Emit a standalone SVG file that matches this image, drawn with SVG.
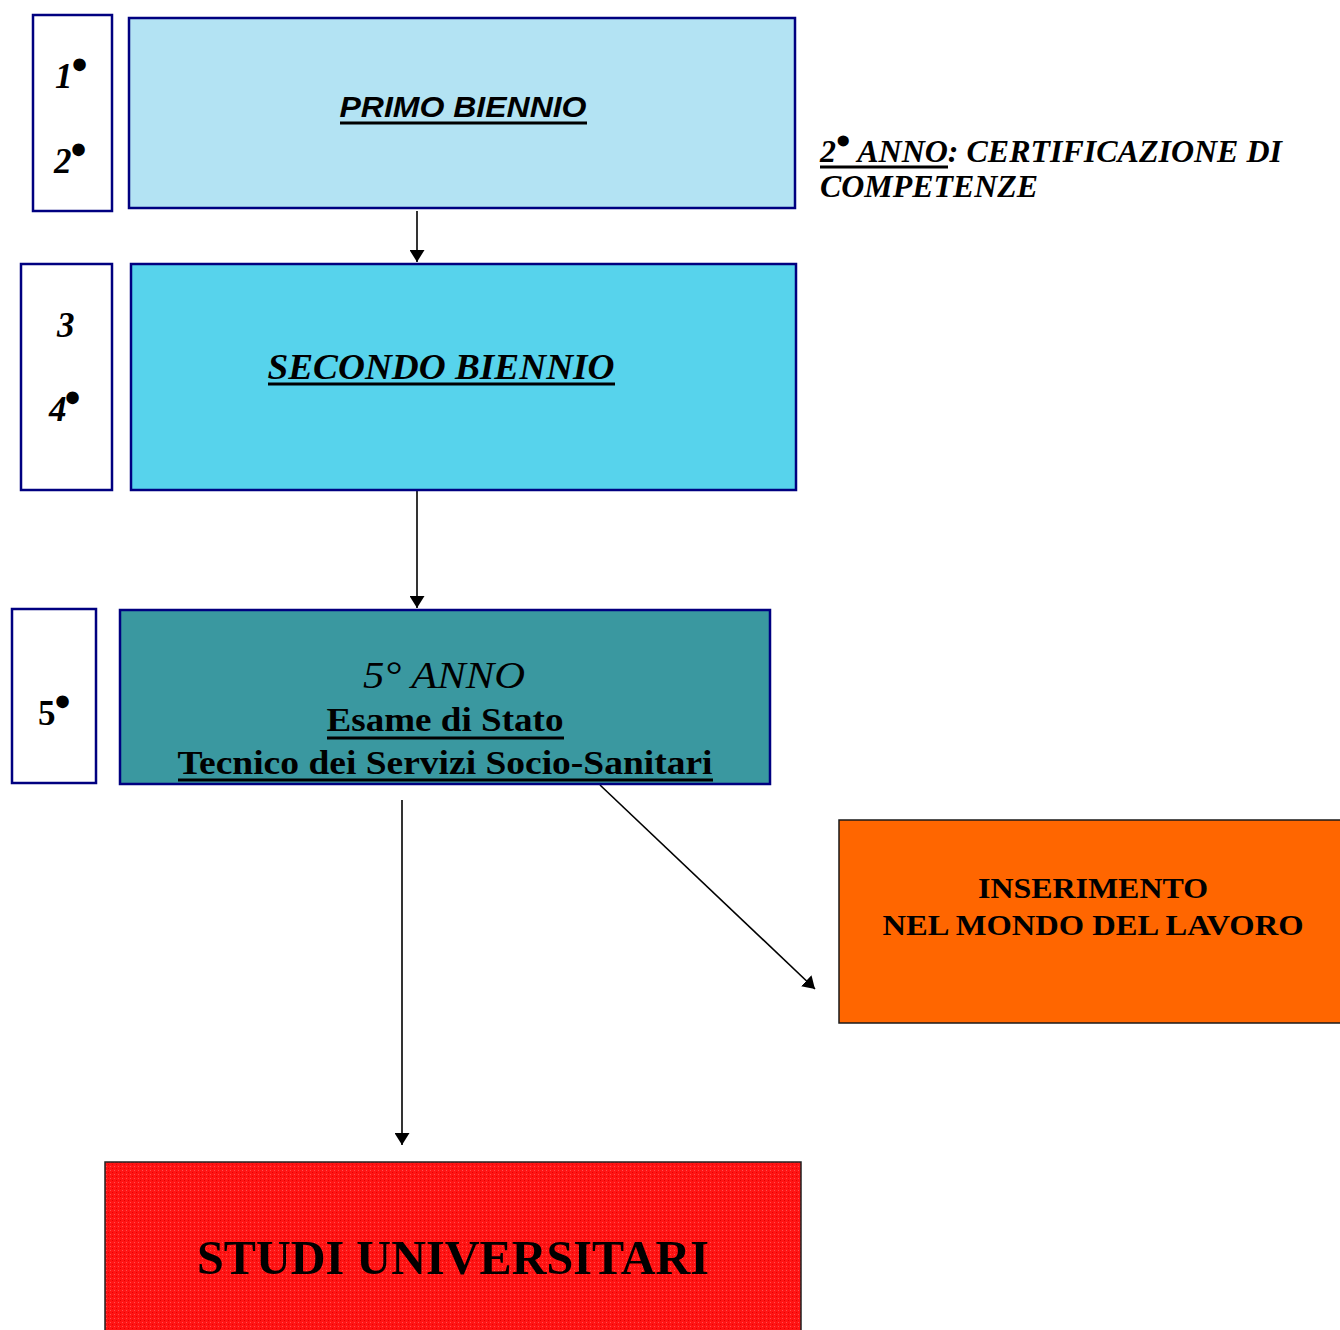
<svg xmlns="http://www.w3.org/2000/svg" width="1340" height="1330" viewBox="0 0 1340 1330">
<style>
.lbl{fill:none;stroke:#000080;stroke-width:2.5}
.serif{font-family:"Liberation Serif","Times New Roman",serif;fill:#000}
.sans{font-family:"Liberation Sans",Arial,sans-serif;fill:#000}
.ul{stroke:#000;stroke-width:3}
.conn{stroke:#000;stroke-width:1.6;fill:none;marker-end:url(#ah)}
.bul{font-size:46px;font-style:normal}
</style>
<defs>
<marker id="ah" viewBox="0 0 12 15" refX="12" refY="7.5" markerWidth="12" markerHeight="15" markerUnits="userSpaceOnUse" orient="auto">
<path d="M0,0 L12,7.5 L0,15 Z" fill="#000"/>
</marker>
<pattern id="redp" width="4" height="4" patternUnits="userSpaceOnUse">
<rect width="4" height="4" fill="#ff1414"/>
<rect x="0" y="0" width="1" height="1" fill="#e60000"/>
<rect x="2" y="2" width="1" height="1" fill="#ff5050"/>
</pattern>
</defs>
<rect width="1340" height="1330" fill="#fff"/>

<g id="connectors">
<line class="conn" x1="417" y1="211" x2="417" y2="262"/>
<line class="conn" x1="417" y1="491" x2="417" y2="608"/>
<line class="conn" x1="600" y1="785" x2="815" y2="989"/>
<line class="conn" x1="402" y1="800" x2="402" y2="1145"/>
</g>

<g id="years12">
<rect class="lbl" x="33" y="15" width="79" height="196" fill="#fff"/>
<text class="serif" x="55" y="88" font-size="35" font-weight="bold" font-style="italic">1<tspan class="bul" dx="-1" dy="-8">•</tspan></text>
<text class="serif" x="54" y="173" font-size="35" font-weight="bold" font-style="italic">2<tspan class="bul" dx="-1" dy="-8">•</tspan></text>
</g>

<g id="primo">
<rect x="129" y="18" width="666" height="190" fill="#b3e3f3" stroke="#000080" stroke-width="2.5"/>
<text class="sans" x="463" y="117" font-size="30" font-weight="bold" font-style="italic" text-anchor="middle" textLength="247" lengthAdjust="spacingAndGlyphs">PRIMO BIENNIO</text>
<line class="ul" x1="340" y1="123" x2="587" y2="123"/>
</g>

<g id="cert">
<text class="serif" x="820" y="162" font-size="31" font-weight="bold" font-style="italic" textLength="462" lengthAdjust="spacingAndGlyphs">2<tspan font-size="40" font-style="normal" dy="-7">•</tspan><tspan dy="7"> ANNO: CERTIFICAZIONE DI</tspan></text>
<line class="ul" x1="820" y1="167" x2="948" y2="167"/>
<text class="serif" x="820" y="197" font-size="31" font-weight="bold" font-style="italic" textLength="218" lengthAdjust="spacingAndGlyphs">COMPETENZE</text>
</g>

<g id="years34">
<rect class="lbl" x="21" y="264" width="91" height="226" fill="#fff"/>
<text class="serif" x="57" y="337" font-size="35" font-weight="bold" font-style="italic">3</text>
<text class="serif" x="49" y="421" font-size="35" font-weight="bold" font-style="italic">4<tspan class="bul" dx="-2" dy="-8">•</tspan></text>
</g>

<g id="secondo">
<rect x="131" y="264" width="665" height="226" fill="#57d3ec" stroke="#000080" stroke-width="2.5"/>
<text class="serif" x="441" y="379" font-size="36" font-weight="bold" font-style="italic" text-anchor="middle" textLength="347" lengthAdjust="spacingAndGlyphs">SECONDO BIENNIO</text>
<line class="ul" x1="268" y1="384" x2="615" y2="384"/>
</g>

<g id="year5">
<rect class="lbl" x="12" y="609" width="84" height="174" fill="#fff"/>
<text class="serif" x="38" y="725" font-size="35" font-weight="bold">5<tspan class="bul" dx="-1" dy="-8">•</tspan></text>
</g>

<g id="quinto">
<rect x="120" y="610" width="650" height="174" fill="#3a98a0" stroke="#000080" stroke-width="2.5"/>
<text class="serif" x="444" y="688" font-size="38" font-style="italic" text-anchor="middle" textLength="162" lengthAdjust="spacingAndGlyphs">5° ANNO</text>
<text class="serif" x="445" y="731" font-size="33" font-weight="bold" text-anchor="middle" textLength="237" lengthAdjust="spacingAndGlyphs">Esame di Stato</text>
<line class="ul" x1="327" y1="738" x2="564" y2="738"/>
<text class="serif" x="445" y="774" font-size="33" font-weight="bold" text-anchor="middle" textLength="535" lengthAdjust="spacingAndGlyphs">Tecnico dei Servizi Socio-Sanitari</text>
<line class="ul" x1="178" y1="780" x2="713" y2="780"/>
</g>

<g id="lavoro">
<rect x="839" y="820" width="505" height="203" fill="#ff6600" stroke="#1a1a1a" stroke-width="1.5"/>
<text class="serif" x="1093" y="898" font-size="30" font-weight="bold" text-anchor="middle" textLength="230" lengthAdjust="spacingAndGlyphs">INSERIMENTO</text>
<text class="serif" x="1093" y="935" font-size="30" font-weight="bold" text-anchor="middle" textLength="421" lengthAdjust="spacingAndGlyphs">NEL MONDO DEL LAVORO</text>
</g>

<g id="universita">
<rect x="105" y="1162" width="696" height="180" fill="url(#redp)" stroke="#222" stroke-width="1.5"/>
<text class="serif" x="453" y="1274" font-size="48" font-weight="bold" text-anchor="middle" textLength="512" lengthAdjust="spacingAndGlyphs">STUDI UNIVERSITARI</text>
</g>
</svg>
